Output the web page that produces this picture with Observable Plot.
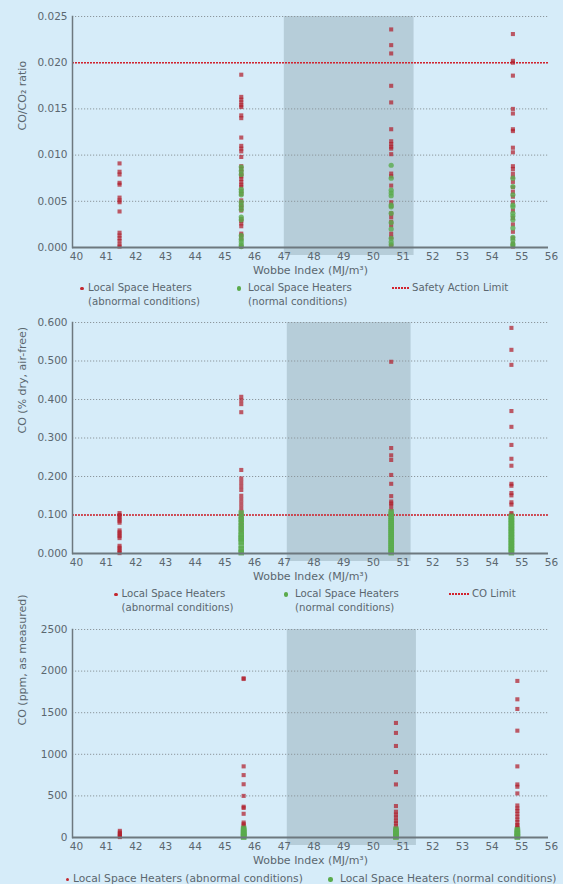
<!DOCTYPE html>
<html><head><meta charset="utf-8">
<script src="https://cdn.jsdelivr.net/npm/d3@7"></script>
<script src="https://cdn.jsdelivr.net/npm/@observablehq/plot@0.6"></script>
<style>
body{margin:0;background:#d6ecf9;font-family:"DejaVu Sans",sans-serif;color:#5e6a72;}
#wrap{position:relative;width:563px;height:884px;overflow:hidden;background:#d6ecf9;}
.pan{position:absolute;left:0;}
.lg{position:absolute;font-size:10.5px;line-height:14px;white-space:nowrap;color:#5b676f;}
.dot{position:absolute;border-radius:50%;}
.lim{position:absolute;height:1.6px;background:repeating-linear-gradient(90deg,#d2232e 0 2px,transparent 2px 3px);}
</style></head><body><div id="wrap"></div>
<script>
// ---------- data ----------
const xTicks = [40,41,42,43,44,45,46,47,48,49,50,51,52,53,54,55,56];
const xLabel = "Wobbe Index (MJ/m³)";

// Panel 1: CO/CO2 ratio
const ratioX = [41.45, 45.55, 50.6, 54.7];
const ratioTicks = [0, 0.005, 0.010, 0.015, 0.020, 0.025];
const ratioLimit = 0.020;
const ratioShade = [47, 51.37];
const ratioAbnormal = [
  [0.0091,0.0082,0.0079,0.0070,0.0068,0.0054,0.0051,0.0049,0.0039,0.0016,0.0013,0.0010,0.0007,0.0003,0.0001],
  [0.0187,0.0163,0.0160,0.0157,0.0154,0.0152,0.0143,0.0140,0.0119,0.0110,0.0107,0.0104,0.0098,0.0088,0.0085,0.0082,0.0079,0.0077,0.0074,0.0071,0.0068,0.0066,0.0061,0.0058,0.0051,0.0048,0.0045,0.0043,0.0040,0.0031,0.0029,0.0026,0.0023,0.0015,0.0013,0.0010,0.0001],
  [0.0236,0.0219,0.0210,0.0175,0.0157,0.0128,0.0115,0.0112,0.0109,0.0107,0.0101,0.0080,0.0077,0.0067,0.0049,0.0045,0.0037,0.0033,0.0028,0.0024,0.0015,0.0011,0.0002],
  [0.0231,0.0202,0.0200,0.0186,0.0150,0.0145,0.0128,0.0126,0.0108,0.0103,0.0088,0.0085,0.0080,0.0076,0.0071,0.0065,0.0060,0.0055,0.0049,0.0040,0.0032,0.0025,0.0017,0.0010,0.0004,0.0001]
];
const ratioNormal = [
  [],
  [0.0087,0.0083,0.0079,0.0063,0.0060,0.0057,0.0049,0.0045,0.0041,0.0033,0.0030,0.0013,0.0009,0.0006,0.0003,0.0001],
  [0.0089,0.0075,0.0062,0.0059,0.0056,0.0046,0.0044,0.0037,0.0027,0.0020,0.0010,0.0006,0.0003],
  [0.0075,0.0066,0.0057,0.0046,0.0044,0.0037,0.0034,0.0030,0.0021,0.0011,0.0008,0.0004,0.0002]
];

// Panel 2: CO (% dry, air-free)
const coX = [41.45, 45.55, 50.6, 54.65];
const coTicks = [0, 0.1, 0.2, 0.3, 0.4, 0.5, 0.6];
const coLimit = 0.100;
const coShade = [47.1, 51.27];
const coAbnormal = [
  [0.105,0.100,0.095,0.090,0.085,0.080,0.060,0.055,0.050,0.045,0.040,0.020,0.015,0.010,0.005,0.001],
  [0.407,0.398,0.388,0.367,0.217,0.195,0.185,0.175,0.165,0.150,0.140,0.130,0.120,0.110,0.100,0.090,0.080,0.070,0.060],
  [0.498,0.274,0.255,0.243,0.204,0.181,0.149,0.135,0.130,0.124,0.114],
  [0.586,0.529,0.490,0.370,0.329,0.282,0.246,0.228,0.181,0.176,0.157,0.151,0.133,0.127,0.105,0.101]
];
const coNormal = [
  [],
  [0.105,0.095,0.088,0.080,0.072,0.065,0.058,0.050,0.045,0.040,0.035,0.030,0.020,0.012,0.005,0.002],
  [0.108,0.102,0.096,0.090,0.085,0.080,0.075,0.070,0.065,0.060,0.055,0.050,0.045,0.040,0.035,0.030,0.025,0.020,0.015,0.010,0.005,0.002],
  [0.097,0.093,0.089,0.085,0.081,0.077,0.073,0.069,0.065,0.061,0.057,0.053,0.049,0.045,0.041,0.037,0.033,0.029,0.025,0.021,0.017,0.013,0.009,0.005,0.002]
];

// Panel 3: CO (ppm, as measured)
const ppmX = [41.46, 45.63, 50.76, 54.85];
const ppmTicks = [0, 500, 1000, 1500, 2000, 2500];
const ppmShade = [47.1, 51.45];
const ppmAbnormal = [
  [80,60,45,30,15,5],
  [1914,1905,855,750,640,500,370,355,285,180,160,140,110,80],
  [1377,1257,1100,787,638,378,310,275,240,200,170,135],
  [1882,1661,1545,1284,855,638,610,530,385,350,320,285,250,215,185,150,140,113]
];
const ppmNormal = [
  [],
  [110,95,80,65,50,40,30,20,10,5],
  [100,85,70,55,40,30,20,10,5],
  [95,80,65,50,35,20,10,5]
];

// ---------- drawing ----------
const RED = "#b01f2b", GREEN = "#5aab4c", TEXT = "#5b676f";
const wrap = document.getElementById("wrap");

function rows(xs, lists) {
  return lists.flatMap((vals, i) => vals.map(v => ({x: xs[i], y: v})));
}

function panel({top, height, marginTop, ticks, fmt, yLabel, labelDy, xs, abn, norm, shade, limit, normSymbol, normR}) {
  const domain = [ticks[0], ticks[ticks.length - 1]];
  const chart = Plot.plot({
    width: 563, height, marginTop, marginBottom: 38, marginLeft: 72, marginRight: 15,
    style: {background: "transparent", fontFamily: "DejaVu Sans, sans-serif", fontSize: "10.5px", color: TEXT, overflow: "visible"},
    x: {domain: [40, 56], range: [76, 551]},
    y: {domain},
    marks: [
      Plot.rect([shade], {x1: d => d[0], x2: d => d[1], y1: domain[0], y2: domain[1], fill: "#b6cdd9", insetBottom: -8}),
      Plot.ruleY(ticks.filter(t => t > 0), {stroke: "#8d979d", strokeDasharray: "1.2,1.8", strokeWidth: 1}),
      limit != null ? Plot.ruleY([limit], {stroke: "#d2232e", strokeDasharray: "2,1", strokeWidth: 1.6}) : null,
      Plot.dot(rows(xs, abn), {x: "x", y: "y", symbol: "square", r: 2.3, fill: RED, fillOpacity: 0.72}),
      Plot.dot(rows(xs, norm), {x: "x", y: "y", symbol: normSymbol, r: normR, fill: GREEN, fillOpacity: 0.8}),
      Plot.ruleY([domain[0]], {stroke: "#6d787f", strokeWidth: 2}),
      Plot.frame({anchor: "left", stroke: "#6d787f", strokeWidth: 1.5}),
      Plot.axisX({ticks: xTicks, tickSize: 0, tickPadding: 5, label: null, tickFormat: d => String(d)}),
      Plot.axisY({ticks, tickSize: 0, tickPadding: 5, label: null, tickFormat: fmt}),
      Plot.text([xLabel], {text: d => d, frameAnchor: "bottom", dy: 26, fontSize: 11}),
      Plot.text([yLabel], {text: d => d, frameAnchor: "left", dx: -50, dy: labelDy, rotate: -90, fontSize: 11})
    ]
  });
  chart.classList.add("pan");
  chart.style.top = top + "px";
  wrap.appendChild(chart);
}

function ltext(left, cy, txt, size) {
  const d = document.createElement("div");
  d.className = "lg"; d.textContent = txt;
  if (size) d.style.fontSize = size + "px";
  d.style.left = left + "px"; d.style.top = (cy - 7) + "px";
  wrap.appendChild(d);
}
function ldot(cx, cy, color, size) {
  const d = document.createElement("div");
  d.className = "dot";
  d.style.background = color;
  d.style.width = size + "px"; d.style.height = size + "px";
  d.style.left = (cx - size / 2) + "px"; d.style.top = (cy - size / 2) + "px";
  wrap.appendChild(d);
}
function lline(x1, x2, cy) {
  const d = document.createElement("div");
  d.className = "lim";
  d.style.left = x1 + "px"; d.style.width = (x2 - x1) + "px"; d.style.top = (cy - 0.8) + "px";
  wrap.appendChild(d);
}

const f3 = d3.format(".3f");
panel({top: 0, height: 285, marginTop: 16, ticks: ratioTicks, fmt: f3, yLabel: "CO/CO₂ ratio", labelDy: -1.5,
  xs: ratioX, abn: ratioAbnormal, norm: ratioNormal, shade: ratioShade, limit: ratioLimit, normSymbol: "circle", normR: 2.6});
panel({top: 312, height: 279, marginTop: 10, ticks: coTicks, fmt: f3, yLabel: "CO (% dry, air-free)", labelDy: -4.5,
  xs: coX, abn: coAbnormal, norm: coNormal, shade: coShade, limit: coLimit, normSymbol: "square", normR: 3.1});
panel({top: 617, height: 258, marginTop: 12, ticks: ppmTicks, fmt: d => String(d), yLabel: "CO (ppm, as measured)", labelDy: -8,
  xs: ppmX, abn: ppmAbnormal, norm: ppmNormal, shade: ppmShade, limit: null, normSymbol: "square", normR: 3.1});

// legends
ldot(82, 288.5, "#c3272f", 3.5); ltext(88, 288, "Local Space Heaters", 10.2); ltext(88, 302, "(abnormal conditions)", 10.2);
ldot(239, 288.5, GREEN, 4.5); ltext(248, 288, "Local Space Heaters", 10.2); ltext(248, 302, "(normal conditions)", 10.2);
lline(392, 409, 288); ltext(412, 288, "Safety Action Limit", 10.2);

ldot(116, 594.5, "#c3272f", 3.5); ltext(121.5, 594, "Local Space Heaters", 10.2); ltext(121.5, 607.5, "(abnormal conditions)", 10.2);
ldot(286, 594.5, GREEN, 4.5); ltext(295, 594, "Local Space Heaters", 10.2); ltext(295, 607.5, "(normal conditions)", 10.2);
lline(449, 469, 594); ltext(472, 594, "CO Limit", 10.2);

ldot(67.5, 879.5, "#c3272f", 3.5); ltext(73, 879, "Local Space Heaters (abnormal conditions)", 10.7);
ldot(330.5, 879.5, GREEN, 4.5); ltext(340, 879, "Local Space Heaters (normal conditions)", 10.7);
</script></body></html>
